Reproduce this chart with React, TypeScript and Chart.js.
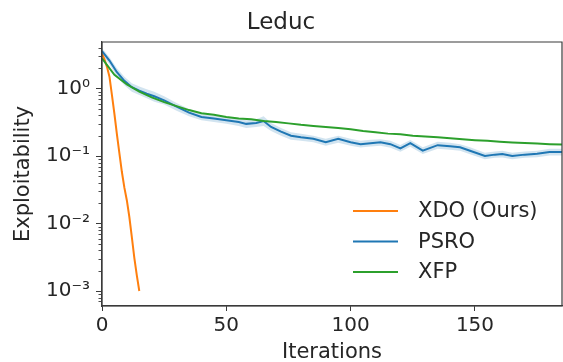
import React, { useEffect, useRef } from 'react';
import { Chart, registerables } from 'chart.js';

Chart.register(...registerables);

// ---- data ----
const titleText = 'Leduc';
const xLabel = 'Iterations';
const yLabel = 'Exploitability';
const seriesNames = ['XDO (Ours)', 'PSRO', 'XFP'];
const seriesColors = ['#ff7f0e', '#1f77b4', '#2ca02c'];

const xdoIters = [0, 1, 2, 3, 4, 5, 6, 7, 8, 9, 10, 11, 12, 13, 14, 15];
const xdoValues = [3.3, 2.7, 2.1, 1.5, 0.8, 0.42, 0.21, 0.11, 0.058, 0.034, 0.022, 0.0125, 0.0063, 0.0031, 0.0017, 0.001];

const psroIters = [0, 3, 6, 9, 12, 15, 18, 21, 25, 30, 35, 40, 45, 50, 55, 58, 62, 65, 68, 72, 76, 80, 85, 90, 95, 100, 104, 108, 112, 116, 120, 124, 129, 135, 140, 144, 148, 154, 158, 161, 165, 170, 175, 180, 185];
const psroValues = [3.6, 2.6, 1.75, 1.3, 1.05, 0.93, 0.84, 0.77, 0.67, 0.54, 0.44, 0.38, 0.36, 0.34, 0.32, 0.30, 0.31, 0.33, 0.27, 0.23, 0.2, 0.19, 0.18, 0.16, 0.18, 0.16, 0.15, 0.155, 0.16, 0.15, 0.13, 0.155, 0.12, 0.145, 0.14, 0.135, 0.12, 0.1, 0.105, 0.107, 0.1, 0.105, 0.108, 0.115, 0.115];
const psroLower = [3.2, 2.3, 1.5, 1.12, 0.9, 0.8, 0.72, 0.64, 0.58, 0.47, 0.39, 0.34, 0.32, 0.3, 0.28, 0.26, 0.27, 0.28, 0.235, 0.2, 0.175, 0.168, 0.16, 0.142, 0.158, 0.142, 0.134, 0.138, 0.142, 0.133, 0.116, 0.137, 0.107, 0.128, 0.124, 0.12, 0.106, 0.09, 0.094, 0.095, 0.09, 0.094, 0.096, 0.102, 0.102];
const psroUpper = [4.0, 2.9, 2.0, 1.5, 1.2, 1.07, 0.98, 0.9, 0.77, 0.61, 0.5, 0.42, 0.4, 0.38, 0.36, 0.34, 0.35, 0.39, 0.31, 0.26, 0.225, 0.214, 0.2, 0.18, 0.2, 0.18, 0.168, 0.174, 0.178, 0.168, 0.146, 0.173, 0.135, 0.163, 0.157, 0.15, 0.135, 0.112, 0.117, 0.12, 0.112, 0.117, 0.12, 0.128, 0.128];

const xfpIters = [0, 5, 10, 15, 20, 25, 30, 35, 40, 45, 50, 55, 60, 65, 70, 75, 80, 85, 90, 95, 100, 105, 110, 115, 120, 125, 130, 135, 140, 145, 150, 155, 160, 165, 170, 175, 180, 185];
const xfpValues = [2.8, 1.6, 1.15, 0.9, 0.74, 0.63, 0.55, 0.48, 0.43, 0.41, 0.38, 0.36, 0.35, 0.33, 0.32, 0.305, 0.29, 0.28, 0.27, 0.26, 0.25, 0.235, 0.225, 0.215, 0.21, 0.2, 0.195, 0.19, 0.183, 0.177, 0.172, 0.168, 0.163, 0.159, 0.156, 0.153, 0.15, 0.148];

const xMin = 0;
const xMax = 185;
const xStep = 50;
const yMin = 6.3e-4;
const yMax = 4.9;

// ---- helpers ----
const FONT = '"DejaVu Sans", "Liberation Sans", sans-serif';
const TEXT = '#262626';
const AXIS = '#3a3a3a';

const toPoints = (xs: number[], ys: number[]) => xs.map((x, i) => ({ x, y: ys[i] }));
const isPow10 = (v: number) => {
  if (!(v > 0)) return false;
  const l = Math.log10(v);
  return Math.abs(l - Math.round(l)) < 1e-9;
};
const SUP: Record<string, string> = { '-': '\u207B', '0': '\u2070', '1': '\u00B9', '2': '\u00B2', '3': '\u00B3', '4': '\u2074', '5': '\u2075' };
const supStr = (n: number) => String(n).split('').map((c) => SUP[c] || c).join('');

const framePlugin = {
  id: 'frameAndMinor',
  afterDraw(chart: any) {
    const { ctx, chartArea } = chart;
    const { left, right, top, bottom } = chartArea;
    ctx.save();
    ctx.strokeStyle = AXIS;
    ctx.lineWidth = 1.2;
    ctx.beginPath();
    ctx.moveTo(left, bottom);
    ctx.lineTo(left, top);
    ctx.lineTo(right, top);
    ctx.lineTo(right, bottom);
    ctx.lineTo(left, bottom);
    ctx.stroke();
    // minor ticks on log axis
    const ys = chart.scales.y;
    ctx.lineWidth = 0.9;
    for (let e = -5; e <= 1; e++) {
      for (let m = 2; m <= 9; m++) {
        const v = m * Math.pow(10, e);
        if (v < yMin || v > yMax) continue;
        const py = Math.round(ys.getPixelForValue(v)) + 0.5;
        ctx.beginPath();
        ctx.moveTo(left - 3.5, py);
        ctx.lineTo(left, py);
        ctx.stroke();
      }
    }
    ctx.restore();
  },
};

const legendPlugin = {
  id: 'innerLegend',
  afterDraw(chart: any) {
    const { ctx, chartArea } = chart;
    ctx.save();
    ctx.font = `21px ${FONT}`;
    ctx.textBaseline = 'middle';
    ctx.textAlign = 'left';
    const x0 = chartArea.left + 251;
    const y0 = chartArea.bottom - 95;
    seriesNames.forEach((name, i) => {
      const y = y0 + i * 30.5;
      ctx.strokeStyle = seriesColors[i];
      ctx.lineWidth = 2;
      ctx.beginPath();
      ctx.moveTo(x0, y);
      ctx.lineTo(x0 + 45, y);
      ctx.stroke();
      ctx.fillStyle = TEXT;
      ctx.fillText(name, x0 + 65, y + 1);
    });
    ctx.restore();
  },
};

export default function App() {
  const ref = useRef<HTMLCanvasElement | null>(null);

  useEffect(() => {
    if (!ref.current) return;
    const chart = new Chart(ref.current, {
      type: 'line',
      data: {
        datasets: [
          {
            label: seriesNames[0],
            data: toPoints(xdoIters, xdoValues),
            borderColor: seriesColors[0],
            borderWidth: 2,
            pointRadius: 0,
            tension: 0,
            fill: false,
            order: 2,
          },
          {
            label: seriesNames[1],
            data: toPoints(psroIters, psroValues),
            borderColor: seriesColors[1],
            borderWidth: 2,
            pointRadius: 0,
            tension: 0,
            fill: false,
            order: 1,
          },
          {
            label: seriesNames[2],
            data: toPoints(xfpIters, xfpValues),
            borderColor: seriesColors[2],
            borderWidth: 2,
            pointRadius: 0,
            tension: 0,
            fill: false,
            order: 0,
          },
          {
            label: 'psro-upper',
            data: toPoints(psroIters, psroUpper),
            borderColor: 'rgba(0,0,0,0)',
            borderWidth: 0,
            pointRadius: 0,
            tension: 0,
            backgroundColor: 'rgba(31,119,180,0.2)',
            fill: '+1',
            order: 3,
          },
          {
            label: 'psro-lower',
            data: toPoints(psroIters, psroLower),
            borderColor: 'rgba(0,0,0,0)',
            borderWidth: 0,
            pointRadius: 0,
            tension: 0,
            fill: false,
            order: 3,
          },
        ],
      },
      options: {
        responsive: false,
        animation: false,
        devicePixelRatio: 1,
        parsing: false as any,
        normalized: true,
        layout: { padding: { left: 0, right: 1, top: 0, bottom: 0 } },
        plugins: {
          legend: { display: false },
          tooltip: { enabled: false },
          title: {
            display: true,
            text: titleText,
            color: TEXT,
            font: { family: FONT, size: 23, weight: 'normal' },
            padding: { top: 9, bottom: 5.4 },
          },
        },
        scales: {
          x: {
            type: 'linear',
            min: xMin,
            max: xMax,
            afterFit: (s: any) => {
              s.height = 56;
            },
            ticks: {
              stepSize: xStep,
              includeBounds: false,
              color: TEXT,
              font: { family: FONT, size: 20 },
              padding: 3,
              maxRotation: 0,
              autoSkip: false,
            },
            grid: {
              drawOnChartArea: false,
              drawTicks: true,
              tickLength: 5,
              tickColor: AXIS,
              tickWidth: 1,
            },
            border: { display: true, color: AXIS, width: 1.2 },
            title: {
              display: true,
              text: xLabel,
              color: TEXT,
              font: { family: FONT, size: 21 },
              padding: { top: 0, bottom: -3 },
            },
          },
          y: {
            type: 'logarithmic',
            min: yMin,
            max: yMax,
            afterFit: (s: any) => {
              s.width = 102;
            },
            ticks: {
              autoSkip: false,
              color: TEXT,
              font: { family: FONT, size: 20 },
              padding: 6,
              callback: (v: any) => {
                const n = Number(v);
                return isPow10(n) ? '10' + supStr(Math.round(Math.log10(n))) : '';
              },
            },
            grid: {
              drawOnChartArea: false,
              drawTicks: true,
              tickLength: 6,
              tickWidth: 1,
              tickColor: (c: any) => (c.tick && isPow10(c.tick.value) ? AXIS : 'rgba(0,0,0,0)'),
            },
            border: { display: true, color: AXIS, width: 1.2 },
            title: {
              display: true,
              text: yLabel,
              color: TEXT,
              font: { family: FONT, size: 21 },
              padding: { top: 11, bottom: 0 },
            },
          },
        },
      },
      plugins: [framePlugin, legendPlugin],
    } as any);
    return () => chart.destroy();
  }, []);

  return (
    <div style={{ position: 'absolute', left: 0, top: 0, width: 563, height: 362, background: '#fff' }}>
      <canvas ref={ref} width={563} height={362} style={{ display: 'block', width: 563, height: 362 }} />
    </div>
  );
}
